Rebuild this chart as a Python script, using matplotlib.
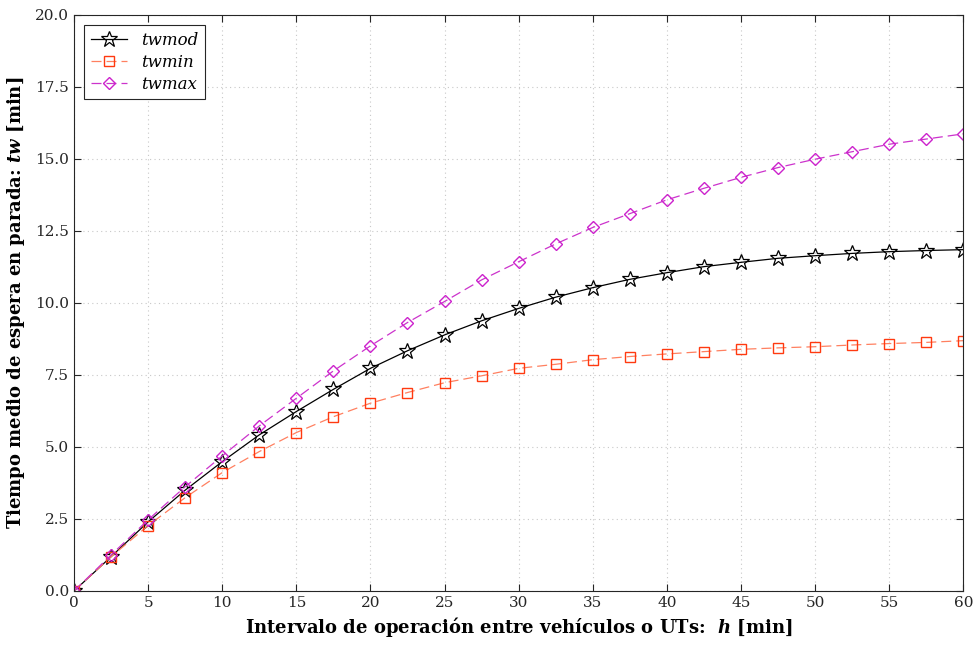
import matplotlib
matplotlib.use("Agg")
import matplotlib.pyplot as plt
from matplotlib.ticker import FormatStrFormatter

# -- Data --------------------------------------------------------------------
h = [0, 2.5, 5, 7.5, 10, 12.5, 15, 17.5, 20, 22.5, 25, 27.5, 30,
     32.5, 35, 37.5, 40, 42.5, 45, 47.5, 50, 52.5, 55, 57.5, 60]

twmod = [0.0, 1.19, 2.40, 3.50, 4.49, 5.42, 6.23, 7.00, 7.73, 8.34, 8.89, 9.38, 9.81,
         10.20, 10.53, 10.82, 11.05, 11.26, 11.41, 11.55, 11.64, 11.72, 11.78, 11.82, 11.85]
twmin = [0.0, 1.19, 2.27, 3.24, 4.11, 4.84, 5.50, 6.05, 6.52, 6.89, 7.23, 7.47, 7.73,
         7.87, 8.03, 8.14, 8.23, 8.31, 8.39, 8.44, 8.48, 8.54, 8.59, 8.63, 8.69]
twmax = [0.0, 1.25, 2.47, 3.62, 4.69, 5.73, 6.69, 7.64, 8.51, 9.32, 10.05, 10.80, 11.43,
         12.05, 12.62, 13.10, 13.58, 13.98, 14.36, 14.70, 14.99, 15.25, 15.51, 15.69, 15.87]

x_ticks = [0, 5, 10, 15, 20, 25, 30, 35, 40, 45, 50, 55, 60]
y_ticks = [0, 2.5, 5, 7.5, 10, 12.5, 15, 17.5, 20]

# -- Style ------------------------------------------------------------------
plt.rcParams["font.family"] = "DejaVu Serif"
plt.rcParams["mathtext.fontset"] = "custom"
plt.rcParams["mathtext.it"] = "DejaVu Serif:italic:bold"
plt.rcParams["mathtext.rm"] = "DejaVu Serif:bold"

fig = plt.figure(figsize=(9.74, 6.48), dpi=100)
ax = fig.add_axes([0.076, 0.088, 0.913, 0.889])

ax.plot(h, twmod, color="black", lw=0.9, marker="*", ms=12,
        mfc="none", mec="black", mew=0.9, label="twmod")
ax.plot(h, twmin, color="#ff8060", lw=0.9, ls=(0, (8, 4)), marker="s", ms=7,
        mfc="none", mec="#ff3a10", mew=1.0, label="twmin")
ax.plot(h, twmax, color="#cc33cc", lw=0.9, ls=(0, (8, 4)), marker="D", ms=6.5,
        mfc="none", mec="#cc22cc", mew=1.0, label="twmax")

ax.set_xlim(0, 60)
ax.set_ylim(0, 20)
ax.set_xticks(x_ticks)
ax.set_yticks(y_ticks)
ax.yaxis.set_major_formatter(FormatStrFormatter("%.1f"))
ax.tick_params(direction="in", top=True, right=True, length=5,
               labelsize=11, colors="#262626")
for sp in ax.spines.values():
    sp.set_color("#262626")
    sp.set_linewidth(0.8)

ax.grid(True, ls=(0, (1, 3)), color="#c8c8c8", lw=0.8)

ax.set_xlabel("Intervalo de operación entre vehículos o UTs:  $h$ [min]",
              fontsize=13, fontweight="bold", labelpad=4)
ax.set_ylabel("Tiempo medio de espera en parada: $tw$ [min]",
              fontsize=13, fontweight="bold", labelpad=6)

leg = ax.legend(loc="upper left", prop={"style": "italic", "size": 12},
                fancybox=False, edgecolor="#262626", framealpha=1,
                borderaxespad=0.6, handlelength=2.2, labelspacing=0.3)
leg.get_frame().set_linewidth(0.8)

plt.savefig("out.png", dpi=100)
plt.close()
